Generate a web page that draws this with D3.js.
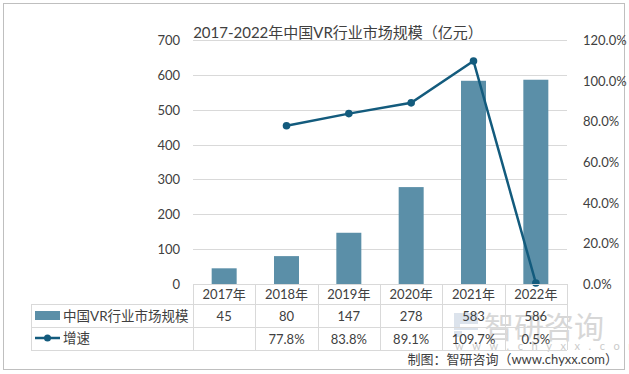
<!DOCTYPE html>
<html>
<head>
<meta charset="utf-8">
<script src="https://cdn.jsdelivr.net/npm/d3@7"></script>
<style>
  body { margin: 0; background: #fff; }
  svg text { font-family: Lato, "Noto Sans CJK SC", sans-serif; fill: #404040; }
</style>
</head>
<body>
<div id="chart"></div>
<script>
const years = ["2017年", "2018年", "2019年", "2020年", "2021年", "2022年"];
const scale = [45, 80, 147, 278, 583, 586];
const growth = [null, 77.8, 83.8, 89.1, 109.7, 0.5];
const growthLabels = ["", "77.8%", "83.8%", "89.1%", "109.7%", "0.5%"];
const leftTicks = [0, 100, 200, 300, 400, 500, 600, 700];
const rightTicks = [0, 20, 40, 60, 80, 100, 120];

const barColor = "#5b8fa8", lineColor = "#135b7d";
const width = 629, height = 374;
const m = { left: 193, right: 567, top: 40, bottom: 284 };

const svg = d3.select("#chart").append("svg")
    .attr("width", width).attr("height", height);

// outer frame
svg.append("rect").attr("x", 3.5).attr("y", 3.5).attr("width", 621).attr("height", 366)
    .attr("fill", "#fff").attr("stroke", "#bfbfbf");

const x = d3.scaleBand().domain(years).range([m.left, m.right]);
const y = d3.scaleLinear().domain([0, 700]).range([m.bottom, m.top]);
const y2 = d3.scaleLinear().domain([0, 120]).range([m.bottom, m.top]);

// gridlines
svg.append("g").selectAll("line").data(leftTicks).enter().append("line")
    .attr("x1", m.left).attr("x2", m.right)
    .attr("y1", d => Math.round(y(d)) + 0.5).attr("y2", d => Math.round(y(d)) + 0.5)
    .attr("stroke", "#d9d9d9");

// left axis
svg.append("g").selectAll("text").data(leftTicks).enter().append("text")
    .attr("x", 180).attr("y", d => y(d) + 5)
    .attr("text-anchor", "end").style("font-size", "13px").text(d => d);

// right axis
svg.append("g").selectAll("text").data(rightTicks).enter().append("text")
    .attr("x", 583).attr("y", d => y2(d) + 5)
    .style("font-size", "13px").text(d => d.toFixed(1) + "%");

// watermark (sits under the table text)
const wm = svg.append("g").attr("opacity", 0.6);
wm.append("path").attr("d", "M454,313 h24 v11 h-18 v3 h18 v3 h-24 z").attr("fill", "#c5d2e0");
wm.append("rect").attr("x", 454).attr("y", 331).attr("width", 8).attr("height", 6).attr("fill", "#c5d2e0");
wm.append("text").attr("x", 484).attr("y", 338).style("font-size", "30px").style("fill", "#bdbdbd")
    .style("font-family", "'Noto Sans CJK SC'").text("智研咨询");
wm.append("text").attr("x", 455).attr("y", 350).style("font-size", "11px").style("fill", "#a8a8a8")
    .style("letter-spacing", "8.6px").text("www.chyxx.com");

// bars
svg.append("g").selectAll("rect").data(scale).enter().append("rect")
    .attr("x", (d, i) => x(years[i]) + x.bandwidth() / 2 - 12.5)
    .attr("width", 25)
    .attr("y", d => y(d)).attr("height", d => m.bottom - y(d))
    .attr("fill", barColor);

// line
const pts = growth.map((g, i) => ({ g, i })).filter(d => d.g !== null);
const line = d3.line().x(d => x(years[d.i]) + x.bandwidth() / 2).y(d => y2(d.g));
svg.append("path").datum(pts).attr("d", line)
    .attr("fill", "none").attr("stroke", lineColor).attr("stroke-width", 2.5);
svg.append("g").selectAll("circle").data(pts).enter().append("circle")
    .attr("cx", d => x(years[d.i]) + x.bandwidth() / 2).attr("cy", d => y2(d.g))
    .attr("r", 3.8).attr("fill", lineColor);

// data table
const tl = 31;
const rows = [m.bottom, 304, 327, 350];
const tbl = svg.append("g").attr("stroke", "#d9d9d9").attr("fill", "none");
tbl.append("line").attr("x1", m.left).attr("x2", m.right).attr("y1", m.bottom + 0.5).attr("y2", m.bottom + 0.5);
rows.slice(1).forEach(r => tbl.append("line").attr("x1", tl).attr("x2", m.right).attr("y1", r + 0.5).attr("y2", r + 0.5));
tbl.append("line").attr("x1", tl + 0.5).attr("x2", tl + 0.5).attr("y1", 304).attr("y2", 350);
years.forEach(yr => tbl.append("line").attr("x1", Math.round(x(yr)) + 0.5).attr("x2", Math.round(x(yr)) + 0.5)
    .attr("y1", m.bottom).attr("y2", 350));
tbl.append("line").attr("x1", m.right + 0.5).attr("x2", m.right + 0.5).attr("y1", m.bottom).attr("y2", 350);

const cx = d => x(d) + x.bandwidth() / 2;
svg.append("g").selectAll("text").data(years).enter().append("text")
    .attr("x", cx).attr("y", 299).attr("text-anchor", "middle").style("font-size", "13px").text(d => d);
svg.append("g").selectAll("text").data(scale).enter().append("text")
    .attr("x", (d, i) => cx(years[i])).attr("y", 321).attr("text-anchor", "middle").style("font-size", "13px").text(d => d);
svg.append("g").selectAll("text").data(growthLabels).enter().append("text")
    .attr("x", (d, i) => cx(years[i])).attr("y", 344).attr("text-anchor", "middle").style("font-size", "13px").text(d => d);

// legend keys
svg.append("rect").attr("x", 35).attr("y", 311).attr("width", 25).attr("height", 9).attr("fill", barColor);
svg.append("text").attr("x", 63).attr("y", 321).style("font-size", "13.5px").text("中国VR行业市场规模");
svg.append("line").attr("x1", 35).attr("x2", 60).attr("y1", 338).attr("y2", 338).attr("stroke", lineColor).attr("stroke-width", 2.5);
svg.append("circle").attr("cx", 47.5).attr("cy", 338).attr("r", 3.5).attr("fill", lineColor);
svg.append("text").attr("x", 63).attr("y", 343).style("font-size", "13.5px").text("增速");

// title
svg.append("text").attr("x", 338).attr("y", 38).attr("text-anchor", "middle")
    .style("font-size", "15px").text("2017-2022年中国VR行业市场规模（亿元）");

// source
svg.append("text").attr("x", 618).attr("y", 364).attr("text-anchor", "end")
    .style("font-size", "13px").text("制图：智研咨询（www.chyxx.com）");
</script>
</body>
</html>
